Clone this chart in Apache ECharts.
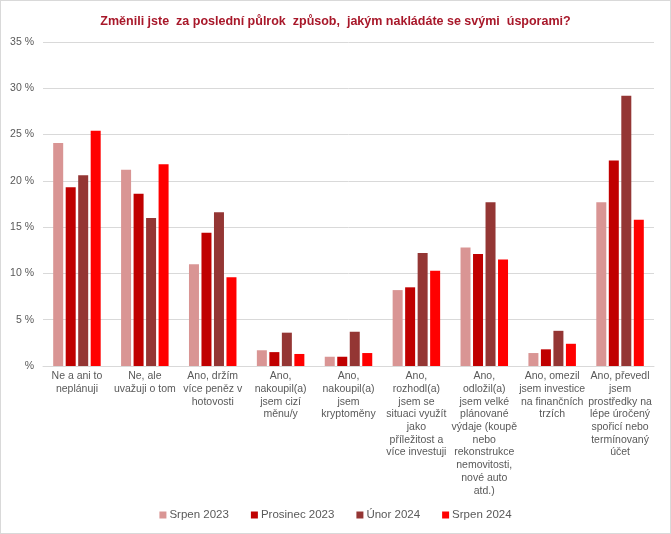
<!DOCTYPE html>
<html>
<head>
<meta charset="utf-8">
<script src="https://cdn.jsdelivr.net/npm/echarts@6/dist/echarts.min.js"></script>
<style>
html,body{margin:0;padding:0;background:#fff;}
#chart{width:669px;height:532px;border:1px solid #d9d9d9;}
</style>
</head>
<body>
<div id="chart"></div>
<script>
const categories = [
  "Ne a ani to\nneplánuji",
  "Ne, ale\nuvažuji o tom",
  "Ano, držím\nvíce peněz v\nhotovosti",
  "Ano,\nnakoupil(a)\njsem cizí\nměnu/y",
  "Ano,\nnakoupil(a)\njsem\nkryptoměny",
  "Ano,\nrozhodl(a)\njsem se\nsituaci využít\njako\npříležitost a\nvíce investuji",
  "Ano,\nodložil(a)\njsem velké\nplánované\nvýdaje (koupě\nnebo\nrekonstrukce\nnemovitosti,\nnové auto\natd.)",
  "Ano, omezil\njsem investice\nna finančních\ntrzích",
  "Ano, převedl\njsem\nprostředky na\nlépe úročený\nspořicí nebo\ntermínovaný\núčet"
];
const seriesNames = ["Srpen 2023", "Prosinec 2023", "Únor 2024", "Srpen 2024"];
const srpen2023 = [24.1, 21.2, 11.0, 1.7, 1.0, 8.2, 12.8, 1.4, 17.7];
const prosinec2023 = [19.3, 18.6, 14.4, 1.5, 1.0, 8.5, 12.1, 1.8, 22.2];
const unor2024 = [20.6, 16.0, 16.6, 3.6, 3.7, 12.2, 17.7, 3.8, 29.2];
const srpen2024 = [25.4, 21.8, 9.6, 1.3, 1.4, 10.3, 11.5, 2.4, 15.8];
const colors = ["#d99594", "#c00000", "#943634", "#ff0000"];

const chart = echarts.init(document.getElementById('chart'));
const dataSets = [srpen2023, prosinec2023, unor2024, srpen2024];
chart.setOption({
  animation: false,
  title: {
    text: "Změnili jste  za poslední půlrok  způsob,  jakým nakládáte se svými  úsporami?",
    left: 'center',
    top: 9,
    textStyle: {fontFamily: 'Liberation Sans, Arial, sans-serif', fontSize: 12.5, fontWeight: 'bold', color: '#a8182a'}
  },
  legend: {
    bottom: 7,
    left: 'center',
    itemWidth: 7,
    itemHeight: 7,
    itemGap: 22,
    icon: 'rect',
    textStyle: {fontFamily: 'Liberation Sans, Arial, sans-serif', fontSize: 11.5, color: '#595959', padding: [0,0,0,-2]},
    data: seriesNames
  },
  grid: {left: 42, right: 16, top: 41, bottom: 167, containLabel: false},
  xAxis: {
    type: 'category',
    data: categories,
    axisTick: {show: false},
    axisLine: {lineStyle: {color: '#d9d9d9'}},
    axisLabel: {interval: 0, fontFamily: 'Liberation Sans, Arial, sans-serif', fontSize: 10.5, color: '#595959', lineHeight: 12.7, margin: 4, align: 'center', verticalAlign: 'top'}
  },
  yAxis: {
    type: 'value',
    min: 0, max: 35, interval: 5,
    axisLine: {show: false},
    axisTick: {show: false},
    splitLine: {lineStyle: {color: '#d9d9d9'}},
    axisLabel: {fontFamily: 'Liberation Sans, Arial, sans-serif', fontSize: 10.5, color: '#595959', margin: 9,
      formatter: v => v === 0 ? '%' : v + ' %'}
  },
  series: seriesNames.map((n, i) => ({
    name: n,
    type: 'bar',
    data: dataSets[i],
    barWidth: 10,
    barGap: '25%',
    itemStyle: {color: colors[i]}
  }))
});
</script>
</body>
</html>
